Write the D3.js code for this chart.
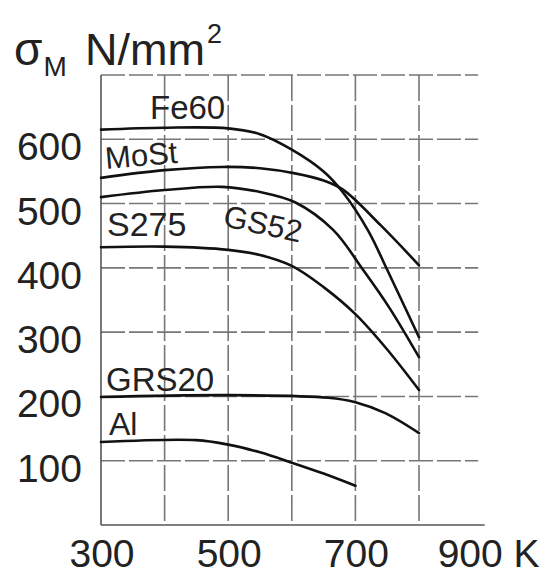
<!DOCTYPE html>
<html><head><meta charset="utf-8">
<script src="https://cdn.jsdelivr.net/npm/d3@7"></script>
<style>
html,body{margin:0;padding:0;background:#fff;}
text{font-family:"Liberation Sans",Arial,sans-serif;fill:#222;}
</style></head>
<body><svg id="c" width="550" height="576"></svg>
<script>
// Data (temperature K, strength N/mm²)
const xTicks = [300, 500, 700, 900];
const xTickLabels = ["300", "500", "700", "900 K"];
const yTicks = [100, 200, 300, 400, 500, 600];
const gridX = [400, 500, 600, 700, 800];
const gridY = [100, 200, 300, 400, 500, 600, 700];

const fe60T = [300, 400, 500, 550, 600, 650, 680, 720, 750, 800];
const fe60V = [615, 618, 617, 608, 584, 550, 518, 458, 397, 292];
const mostT = [300, 400, 490, 550, 605, 650, 680, 740, 800];
const mostV = [540, 552, 557, 555, 547, 536, 522, 466, 404];
const gs52T = [300, 400, 490, 550, 605, 665, 712, 754, 800];
const gs52V = [510, 521, 526, 518, 502, 459, 397, 337, 261];
const s275T = [300, 400, 500, 550, 600, 650, 700, 750, 800];
const s275V = [432, 433, 428, 420, 403, 370, 328, 273, 210];
const grs20T = [300, 500, 657, 700, 747, 800];
const grs20V = [199, 202, 198, 191, 174, 143];
const alT = [300, 450, 500, 550, 600, 650, 700];
const alV = [129, 132, 125, 113, 97, 80, 61];

const seriesNames = ["Fe60", "MoSt", "GS52", "S275", "GRS20", "Al"];

const series = [
  {name: "Fe60", t: fe60T, v: fe60V},
  {name: "MoSt", t: mostT, v: mostV},
  {name: "GS52", t: gs52T, v: gs52V},
  {name: "S275", t: s275T, v: s275V},
  {name: "GRS20", t: grs20T, v: grs20V},
  {name: "Al", t: alT, v: alV}
];

const svg = d3.select("#c");
const x = d3.scaleLinear().domain([300, 900]).range([101, 482.6]);
const y = d3.scaleLinear().domain([0, 700]).range([525, 75]);
const xGridEnd = 893;

const g = svg.append("g");
// horizontal grid
g.selectAll("line.hg").data(gridY).join("line")
  .attr("x1", x(300)).attr("x2", x(xGridEnd))
  .attr("y1", d => y(d)).attr("y2", d => y(d))
  .attr("stroke", "#777").attr("stroke-width", 1.6)
  .attr("stroke-dasharray", "24,4");
// vertical grid
g.selectAll("line.vg").data(gridX).join("line")
  .attr("x1", d => x(d)).attr("x2", d => x(d))
  .attr("y1", y(700)).attr("y2", y(0))
  .attr("stroke", "#777").attr("stroke-width", 1.6)
  .attr("stroke-dasharray", "26,4");
// axes lines
g.append("line").attr("x1", x(300)).attr("x2", x(300)).attr("y1", y(700)).attr("y2", y(0))
  .attr("stroke", "#555").attr("stroke-width", 1.6);
g.append("line").attr("x1", x(300)).attr("x2", x(900) + 2).attr("y1", y(0)).attr("y2", y(0))
  .attr("stroke", "#555").attr("stroke-width", 1.6);

// y tick labels
g.selectAll("text.yt").data(yTicks).join("text")
  .attr("x", 82).attr("y", d => y(d) + 21)
  .attr("text-anchor", "end").attr("font-size", 39)
  .text(d => d);
// x tick labels
g.selectAll("text.xt").data(xTicks).join("text")
  .attr("x", d => x(d) + (d === 900 ? 6 : 1)).attr("y", 567)
  .attr("text-anchor", "middle").attr("font-size", 39)
  .text((d, i) => xTickLabels[i]);

// title
const t = svg.append("text").attr("x", 14).attr("y", 65).attr("font-size", 46);
t.append("tspan").text("σ");
t.append("tspan").attr("font-size", 28).attr("dy", 11).attr("dx", 1).text("M");
const t2 = svg.append("text").attr("x", 85).attr("y", 65).attr("font-size", 45);
t2.append("tspan").text("N/mm");
t2.append("tspan").attr("font-size", 27).attr("dy", -22).attr("dx", 2).text("2");

// curves
const line = d3.line().x(d => x(d[0])).y(d => y(d[1])).curve(d3.curveCatmullRom.alpha(0.5));
g.selectAll("path.s").data(series).join("path")
  .attr("fill", "none").attr("stroke", "#111").attr("stroke-width", 2.6)
  .attr("stroke-linecap", "round")
  .attr("d", s => line(s.t.map((tt, i) => [tt, s.v[i]])));

// curve labels
const labelPos = {
  "Fe60": {px: 150, py: 119, r: 0, fs: 33},
  "MoSt": {px: 106, py: 169, r: -5, fs: 31},
  "GS52": {px: 222, py: 226, r: 12, fs: 31},
  "S275": {px: 107, py: 236, r: 0, fs: 34},
  "GRS20": {px: 106, py: 391, r: 0, fs: 33},
  "Al": {px: 109, py: 435, r: 0, fs: 32}
};
g.selectAll("text.lab").data(seriesNames).join("text")
  .attr("font-size", d => labelPos[d].fs)
  .attr("transform", d => `translate(${labelPos[d].px},${labelPos[d].py}) rotate(${labelPos[d].r})`)
  .text(d => d);
</script></body></html>
